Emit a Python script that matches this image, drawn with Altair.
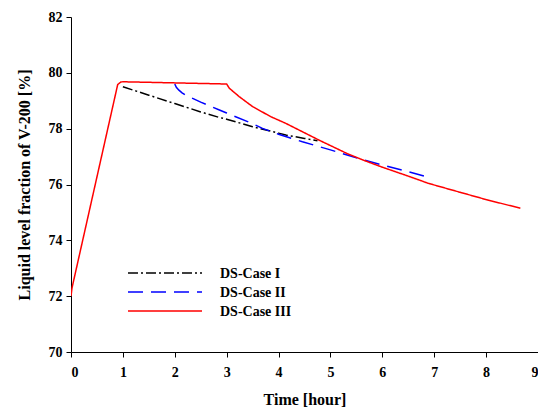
import altair as alt
import pandas as pd

case1_x = [1.0, 1.5, 2.0, 2.5, 2.86, 3.0, 3.5, 4.0, 4.14, 4.5, 4.75]
case1_y = [79.5, 79.2, 78.9, 78.6, 78.4, 78.34, 78.07, 77.84, 77.77, 77.65, 77.57]

case2_x = [2.0, 2.03, 2.08, 2.14, 2.21, 2.5, 2.86, 3.0, 3.5, 3.69, 4.0, 4.46, 5.0, 5.23, 5.55, 6.0, 6.5, 6.93]
case2_y = [79.6, 79.48, 79.38, 79.28, 79.2, 78.95, 78.67, 78.56, 78.18, 78.01, 77.8, 77.53, 77.24, 77.11, 76.93, 76.7, 76.46, 76.24]

case3_x = [0.0, 0.02, 0.05, 0.9, 0.96, 1.0, 2.0, 3.0, 3.05, 3.24, 3.5, 3.85, 4.14, 4.46, 4.78, 5.32, 5.68, 6.0, 6.5, 6.89, 7.5, 8.0, 8.66]
case3_y = [72.0, 72.3, 72.55, 79.58, 79.67, 79.68, 79.64, 79.6, 79.45, 79.15, 78.79, 78.43, 78.19, 77.89, 77.59, 77.11, 76.84, 76.62, 76.3, 76.04, 75.72, 75.46, 75.15]

names = ["DS-Case I", "DS-Case II", "DS-Case III"]
colors = ["#000000", "#0000FF", "#FF0000"]
dashes = [[10, 3, 2, 3], [15, 8], [1, 0]]

rows = []
for name, xs, ys in zip(names, [case1_x, case2_x, case3_x], [case1_y, case2_y, case3_y]):
    for i, (x, y) in enumerate(zip(xs, ys)):
        rows.append({"case": name, "t": x, "v": y, "order": i})
df = pd.DataFrame(rows)

# legend rows (pixel layout inside the plot area)
leg = pd.DataFrame({"case": names, "row": [0, 1, 2]})

font = "Liberation Serif"
color_scale = alt.Scale(domain=names, range=colors)
dash_scale = alt.Scale(domain=names, range=dashes)

lines = alt.Chart(df).mark_line(strokeWidth=1.5, clip=True).encode(
    x=alt.X("t:Q", title="Time [hour]",
            scale=alt.Scale(domain=[0, 9], nice=False, zero=False),
            axis=alt.Axis(values=list(range(0, 10)), labelOverlap=False)),
    y=alt.Y("v:Q", title="Liquid level fraction of V-200 [%]",
            scale=alt.Scale(domain=[70, 82], nice=False, zero=False),
            axis=alt.Axis(values=[70, 72, 74, 76, 78, 80, 82])),
    color=alt.Color("case:N", scale=color_scale, legend=None),
    strokeDash=alt.StrokeDash("case:N", scale=dash_scale, legend=None),
    order="order:Q",
)

leg_base = alt.Chart(leg).transform_calculate(
    py="256 + datum.row * 19"
)

leg_rules = leg_base.mark_rule(strokeWidth=1.5).encode(
    x=alt.value(57), x2=alt.value(131),
    y=alt.Y("py:Q", scale=None),
    color=alt.Color("case:N", scale=color_scale, legend=None),
    strokeDash=alt.StrokeDash("case:N", scale=dash_scale, legend=None),
)

leg_text = leg_base.mark_text(
    align="left", baseline="middle", font=font, fontWeight="bold",
    fontSize=14, color="black", dy=1
).encode(
    x=alt.value(149),
    y=alt.Y("py:Q", scale=None),
    text="case:N",
)

chart = alt.layer(lines, leg_rules, leg_text).properties(
    width=467, height=335,
    autosize=alt.AutoSizeParams(type="none"),
    padding={"left": 71, "top": 17, "right": 0, "bottom": 65},
).configure_view(stroke=None).configure_axis(
    grid=False, domainColor="black", tickColor="black", domainWidth=1, tickSize=5,
    labelFont=font, labelFontWeight="bold", labelFontSize=14, labelColor="black",
    titleFont=font, titleFontWeight="bold", titleFontSize=16, titleColor="black",
).configure_axisX(labelPadding=8, titlePadding=12).configure_axisY(
    labelPadding=4, titlePadding=16
)

chart.save("out.html", embed_options={"renderer": "svg", "actions": False})
